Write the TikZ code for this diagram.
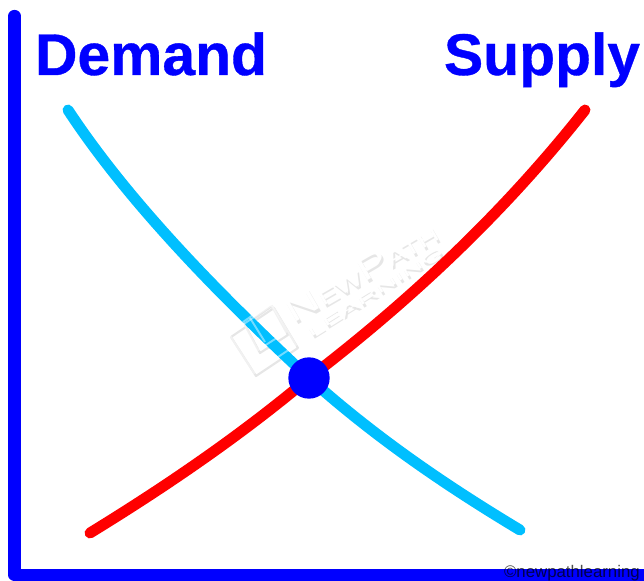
\documentclass[tikz,border=0pt]{standalone}
\usepackage{fontspec}
\setmainfont{Liberation Sans}
\newfontfamily\titlefont[BoldFeatures={FakeBold=0.6}]{Liberation Sans}
\definecolor{axisblue}{RGB}{0,0,255}
\definecolor{demandblue}{RGB}{0,191,255}
\definecolor{markshadow}{RGB}{230,230,230}
\tikzset{
  axisline/.style={draw=axisblue,line width=9.2pt,line cap=round,line join=round},
  curveline/.style={line width=8.2pt,line cap=round},
  title/.style={text=axisblue,font=\titlefont\bfseries\fontsize{44.1pt}{44pt}\selectfont,inner sep=0pt,anchor=base},
  markbig/.style={inner sep=0pt,rotate=30,xscale=1.4,transform shape,font=\fontsize{16pt}{16pt}\selectfont},
  marksmall/.style={inner sep=0pt,rotate=32,xscale=2.1,transform shape,font=\fontsize{11pt}{11pt}\selectfont},
  logoshadow/.style={draw=markshadow,line width=1.6pt,line join=round},
  logoline/.style={draw=white,opacity=0.45,line width=1.4pt,line join=round},
}
\newcommand{\wmone}{{\fontsize{25pt}{25pt}\selectfont N}EW{\fontsize{25pt}{25pt}\selectfont P}ATH}
\newcommand{\wmtwo}{LEARNING}
\begin{document}
\begin{tikzpicture}[x=0.75pt,y=-0.75pt]
\useasboundingbox (0,0) rectangle (644,581);
\coordinate (top) at (14.5,16);
\coordinate (origin) at (14.5,575);
\coordinate (right) at (644,575);
\coordinate (d1) at (68,110);
\coordinate (d2) at (520,530);
\coordinate (s1) at (90,533);
\coordinate (s2) at (585,110);
% watermark shadow
\draw[logoshadow] (231,337) -- (274,308) -- (298,348) -- (256,376) -- cycle;
\draw[logoshadow] (245,325) -- (272,306) -- (288,335) -- (260,353) -- cycle;
\node[markbig,text=markshadow] (wmshadow) at (364,274) {\wmone};
\node[marksmall,text=markshadow] (wmsmallshadow) at (377,294) {\wmtwo};
\node[markbig,text=white] (wm) at (362,271) {\wmone};
\node[marksmall,text=white] (wmsmall) at (375,291) {\wmtwo};
\draw[axisline] (top) -- (origin) -- (right);
\draw[curveline,demandblue] (d1) .. controls (135,212) and (238,312) .. (309,378) .. controls (375,437) and (445,485) .. (d2);
\draw[curveline,red] (s1) .. controls (165,487) and (240,436) .. (309,378) .. controls (420,293) and (510,205) .. (s2);
% watermark logo over the curve
\draw[logoline] (229,334) -- (272,305) -- (296,345) -- (254,373) -- cycle;
\draw[logoline] (243,322) -- (270,303) -- (286,332) -- (258,350) -- cycle;
\draw[logoline] (250,318) -- (265,342);
\node[circle,fill=axisblue,minimum size=31pt,inner sep=0pt] (eq) at (309,378) {};
\node[title] (demand) at (151,75) {Demand};
\node[title] (supply) at (542,75) {Supply};
\node[anchor=base east,inner sep=0pt,font=\fontsize{12.6pt}{13pt}\selectfont,text=black,text opacity=0.7] (credit) at (640,578) {©newpathlearning};
\end{tikzpicture}
\end{document}
